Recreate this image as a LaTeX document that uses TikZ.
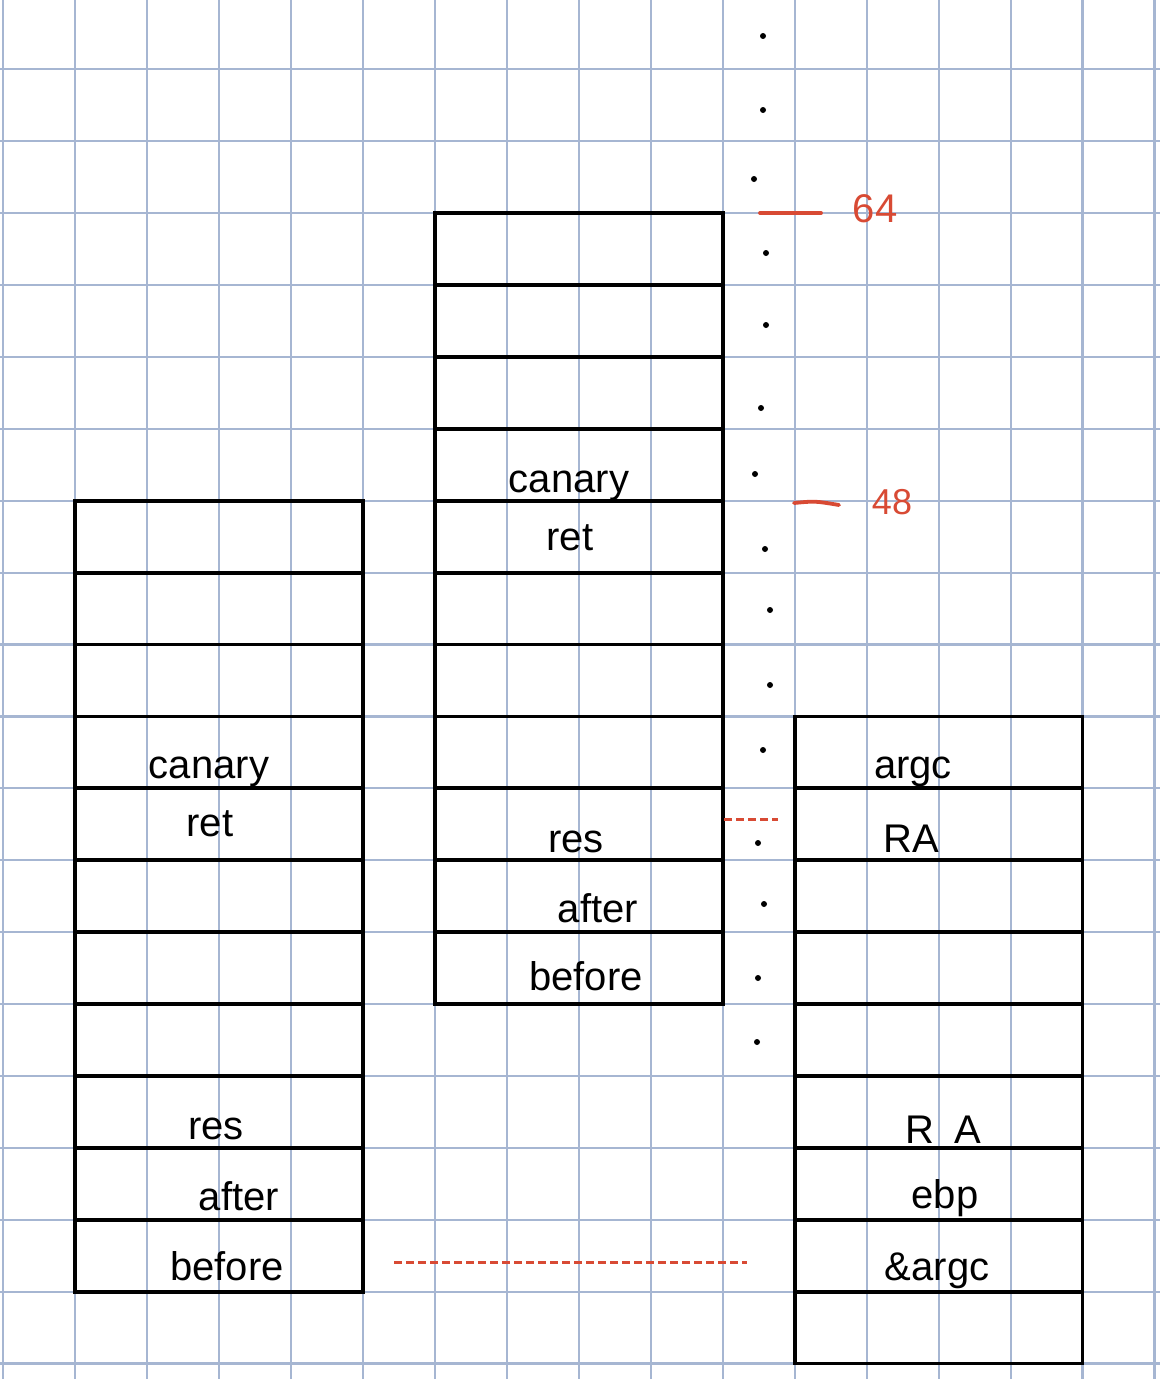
\documentclass[tikz,border=0pt]{standalone}
\usepackage{fontspec}
\setmainfont{Liberation Sans}
\definecolor{gridc}{RGB}{166,182,210}
\definecolor{penred}{RGB}{216,74,52}
\begin{document}
\begin{tikzpicture}[x=1pt,y=-1pt,
  gridline/.style={draw=gridc,line width=2.2pt},
  cell/.style={draw=black,line width=3.8pt,minimum width=287.8pt,minimum height=71.9pt,inner sep=0pt,outer sep=0pt},
  lbl/.style={font=\fontsize{40}{48}\selectfont,anchor=base,inner sep=0pt},
  redlbl/.style={lbl,text=penred},
  dotm/.style={circle,fill=black,inner sep=0pt,minimum size=6pt},
  redline/.style={draw=penred,line width=3.8pt,line cap=round},
  reddash/.style={draw=penred,line width=3pt,dash pattern=on 8pt off 4pt}]
\useasboundingbox (0,0) rectangle (1160,1379);
\fill[white] (0,0) rectangle (1160,1379);
% grid paper
\foreach \k in {0,...,16} \draw[gridline] ({3.3+71.95*\k},0) -- ({3.3+71.95*\k},1379);
\foreach \k in {0,...,18} \draw[gridline] (0,{69.3+71.9*\k}) -- (1160,{69.3+71.9*\k});
% stacks
\foreach \i in {1,...,11} \node[cell] (L\i) at ({3.3+71.95*3},{69.3+71.9*(5.5+\i)}) {};
\foreach \i in {1,...,11} \node[cell] (M\i) at ({3.3+71.95*8},{69.3+71.9*(1.5+\i)}) {};
\foreach \i in {1,...,9} \node[cell] (R\i) at ({3.3+71.95*13},{69.3+71.9*(8.5+\i)}) {};
% labels middle stack
\node[lbl] (mcan) at (569,492) {canary};
\node[lbl] (mret) at (570,550) {ret};
\node[lbl] (mres) at (576,852) {res};
\node[lbl] (maft) at (598,922) {after};
\node[lbl] (mbef) at (586,990) {before};
% labels left stack
\node[lbl] (lcan) at (209,778) {canary};
\node[lbl] (lret) at (210,836) {ret};
\node[lbl] (lres) at (216,1139) {res};
\node[lbl] (laft) at (239,1210) {after};
\node[lbl] (lbef) at (227,1280) {before};
% labels right stack
\node[lbl] (rargc) at (913,778) {argc};
\node[lbl] (rra1) at (911,852) {RA};
\node[lbl] (rra2) at (943,1143) {R\,\,\,A};
\node[lbl] (rebp) at (945,1208) {ebp};
\node[lbl] (ramp) at (937,1280) {\&argc};
% dots
\foreach \p [count=\n] in {(763,36),(763,110),(754,179),(766,253),(766,325),(761,408),(755,474),(765,549),(770,610),(770,685),(763,750),(758,843),(764,904),(758,978),(757,1042)}
  \node[dotm] (d\n) at \p {};
% red marks
\coordinate (a1) at (760,213); \coordinate (a2) at (821,213);
\draw[redline] (a1) -- (a2);
\node[redlbl] (n64) at (875,222) {64};
\coordinate (b1) at (794,503); \coordinate (b2) at (839,505);
\draw[redline] (b1) .. controls (815,501) .. (b2);
\node[redlbl,font=\fontsize{36}{44}\selectfont] (n48) at (892,514) {48};
\coordinate (c1) at (724,819); \coordinate (c2) at (778,819);
\draw[reddash] (c1) -- (c2);
\coordinate (e1) at (394,1262); \coordinate (e2) at (747,1262);
\draw[reddash] (e1) -- (e2);
\end{tikzpicture}
\end{document}
